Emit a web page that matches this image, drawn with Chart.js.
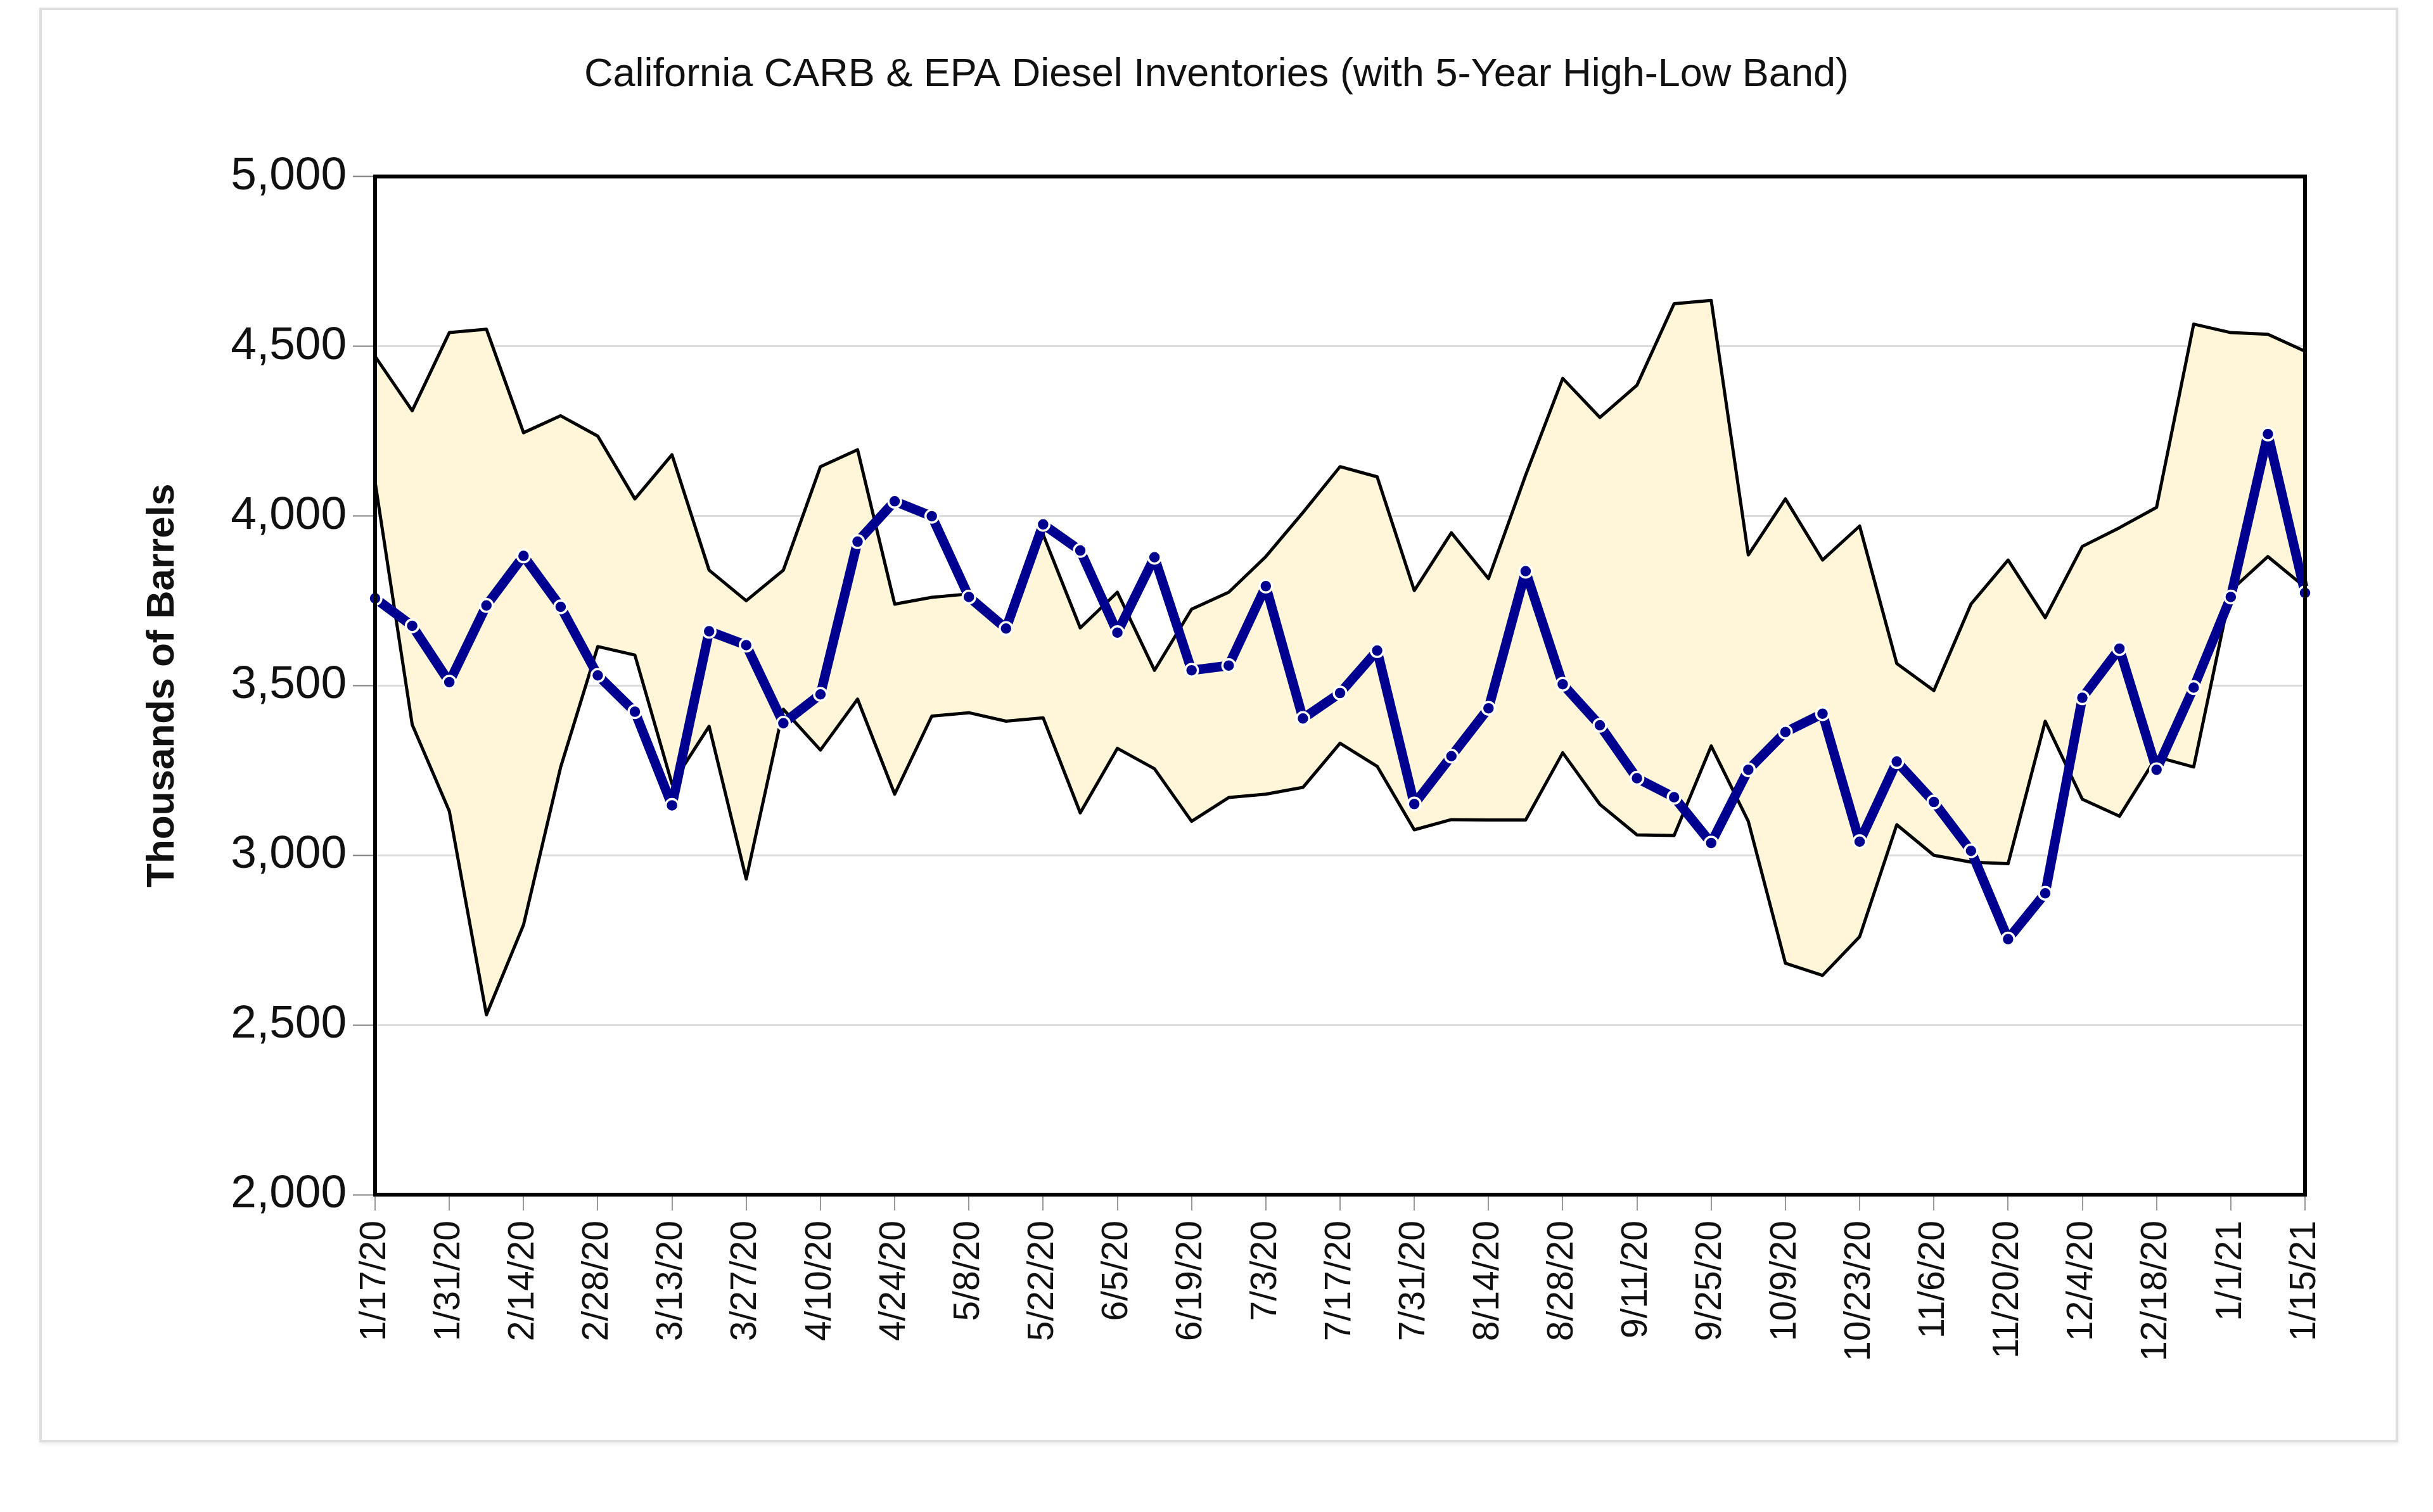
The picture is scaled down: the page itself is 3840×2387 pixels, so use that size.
<!DOCTYPE html>
<html>
<head>
<meta charset="utf-8">
<script src="https://cdn.jsdelivr.net/npm/chart.js@4/dist/chart.umd.min.js"></script>
<style>
    html, body { margin: 0; padding: 0; background: #ffffff; }
    .frame {
        position: absolute; left: 62px; top: 12px; width: 3715px; height: 2257px;
        border: 4px solid #dedede; box-shadow: 0 3px 6px rgba(0,0,0,0.08);
    }
    #chart { position: absolute; left: 0; top: 0; }
</style>
</head>
<body>
<div class="frame"></div>
<canvas id="chart" width="3840" height="2387"></canvas>
<script>
// Weekly dates (x categories)
const weeks = [
    '1/17/20', '1/24/20', '1/31/20', '2/7/20', '2/14/20', '2/21/20', '2/28/20', '3/6/20', '3/13/20', '3/20/20',
    '3/27/20', '4/3/20', '4/10/20', '4/17/20', '4/24/20', '5/1/20', '5/8/20', '5/15/20', '5/22/20', '5/29/20',
    '6/5/20', '6/12/20', '6/19/20', '6/26/20', '7/3/20', '7/10/20', '7/17/20', '7/24/20', '7/31/20', '8/7/20',
    '8/14/20', '8/21/20', '8/28/20', '9/4/20', '9/11/20', '9/18/20', '9/25/20', '10/2/20', '10/9/20', '10/16/20',
    '10/23/20', '10/30/20', '11/6/20', '11/13/20', '11/20/20', '11/27/20', '12/4/20', '12/11/20', '12/18/20', '12/25/20',
    '1/1/21', '1/8/21', '1/15/21'
];

// 5-year high
const bandHigh = [
    4470, 4310, 4540, 4550, 4245, 4295, 4235, 4050, 4180, 3840,
    3750, 3840, 4145, 4195, 3740, 3760, 3770, 3680, 3945, 3670,
    3775, 3545, 3725, 3775, 3880, 4010, 4145, 4115, 3780, 3950,
    3815, 4120, 4405, 4290, 4385, 4625, 4635, 3885, 4050, 3870,
    3970, 3565, 3485, 3740, 3870, 3700, 3910, 3965, 4025, 4565,
    4540, 4535, 4485
];

// 5-year low
const bandLow = [
    4100, 3385, 3130, 2530, 2795, 3260, 3615, 3590, 3210, 3380,
    2930, 3430, 3310, 3460, 3180, 3410, 3420, 3395, 3405, 3125,
    3315, 3255, 3100, 3170, 3180, 3200, 3330, 3262, 3075, 3105,
    3104, 3104, 3302, 3150, 3060, 3058, 3322, 3100, 2682, 2646,
    2760, 3090, 3000, 2980, 2975, 3395, 3165, 3115, 3290, 3260,
    3780, 3880, 3790
];

// Current inventories
const inventory = [
    3757, 3676, 3510, 3736, 3882, 3732, 3530, 3423, 3147, 3660,
    3619, 3389, 3474, 3924, 4043, 3999, 3761, 3668, 3975, 3898,
    3656, 3878, 3545, 3559, 3793, 3403, 3478, 3603, 3151, 3292,
    3433, 3837, 3504, 3383, 3227, 3171, 3036, 3252, 3363, 3417,
    3040, 3276, 3157, 3013, 2753, 2888, 3464, 3609, 3252, 3494,
    3761, 4241, 3773
];

const yTicks = [2000, 2500, 3000, 3500, 4000, 4500, 5000];

const fontFamily = '"Liberation Sans", Arial, sans-serif';

// Frame round the plot area
const framePlugin = {
    id: 'plotFrame',
    afterDraw(chart) {
        const { ctx, chartArea } = chart;
        ctx.save();
        ctx.strokeStyle = '#000000';
        ctx.lineWidth = 6;
        ctx.strokeRect(chartArea.left, chartArea.top, chartArea.right - chartArea.left, chartArea.bottom - chartArea.top);
        ctx.restore();
    }
};

const ctx = document.getElementById('chart').getContext('2d');

new Chart(ctx, {
    type: 'line',
    data: {
        labels: weeks,
        datasets: [
            {
                label: 'Inventories',
                data: inventory,
                borderColor: '#000090',
                borderWidth: 15,
                borderJoinStyle: 'round',
                borderCapStyle: 'round',
                pointRadius: 10,
                pointBorderWidth: 3.5,
                pointBorderColor: '#ffffff',
                pointBackgroundColor: '#000090',
                tension: 0,
                fill: false,
                order: 0
            },
            {
                label: '5-Year High',
                data: bandHigh,
                borderColor: '#000000',
                borderWidth: 5,
                borderJoinStyle: 'round',
                pointRadius: 0,
                tension: 0,
                backgroundColor: '#fff6da',
                fill: '+1',
                order: 1
            },
            {
                label: '5-Year Low',
                data: bandLow,
                borderColor: '#000000',
                borderWidth: 5,
                borderJoinStyle: 'round',
                pointRadius: 0,
                tension: 0,
                fill: false,
                order: 2
            }
        ]
    },
    options: {
        responsive: false,
        devicePixelRatio: 1,
        animation: false,
        layout: { padding: { left: 0, right: 0, top: 0, bottom: 0 } },
        plugins: {
            legend: { display: false },
            tooltip: { enabled: false },
            filler: { drawTime: 'beforeDatasetsDraw' },
            title: {
                display: true,
                text: 'California CARB & EPA Diesel Inventories (with 5-Year High-Low Band)',
                color: '#111111',
                font: { family: fontFamily, size: 63, weight: 'normal' },
                padding: { top: 81, bottom: 122 }
            }
        },
        scales: {
            x: {
                type: 'category',
                offset: false,
                grid: {
                    display: true,
                    drawOnChartArea: false,
                    drawTicks: true,
                    tickLength: 25,
                    lineWidth: 2,
                    tickColor: function(context) {
                        return context.index % 2 === 0 ? '#9a9a9a' : 'rgba(0,0,0,0)';
                    }
                },
                border: { display: false },
                ticks: {
                    autoSkip: false,
                    minRotation: 90,
                    maxRotation: 90,
                    padding: 16,
                    color: '#111111',
                    font: { family: fontFamily, size: 57 },
                    callback: function(value, index) {
                        return index % 2 === 0 ? weeks[index] : '';
                    }
                },
                afterFit: function(scale) {
                    scale.height = 501;
                }
            },
            y: {
                min: 2000,
                max: 5000,
                afterBuildTicks: function(scale) {
                    scale.ticks = yTicks.map(v => ({ value: v }));
                },
                grid: {
                    color: '#dcdcdc',
                    lineWidth: 3,
                    tickLength: 35,
                    tickColor: '#808080',
                    tickWidth: 2
                },
                border: { display: false },
                ticks: {
                    padding: 10,
                    color: '#111111',
                    font: { family: fontFamily, size: 73 },
                    callback: function(value) {
                        return value.toLocaleString('en-US');
                    }
                },
                title: {
                    display: true,
                    text: 'Thousands of Barrels',
                    color: '#111111',
                    font: { family: fontFamily, size: 62, weight: 'bold' },
                    padding: { top: 220, bottom: 0 }
                },
                afterFit: function(scale) {
                    scale.width = 592;
                }
            },
            yRight: {
                position: 'right',
                display: true,
                grid: { display: false },
                border: { display: false },
                ticks: { display: false },
                afterFit: function(scale) {
                    scale.width = 202;
                }
            }
        }
    },
    plugins: [framePlugin]
});
</script>
</body>
</html>
